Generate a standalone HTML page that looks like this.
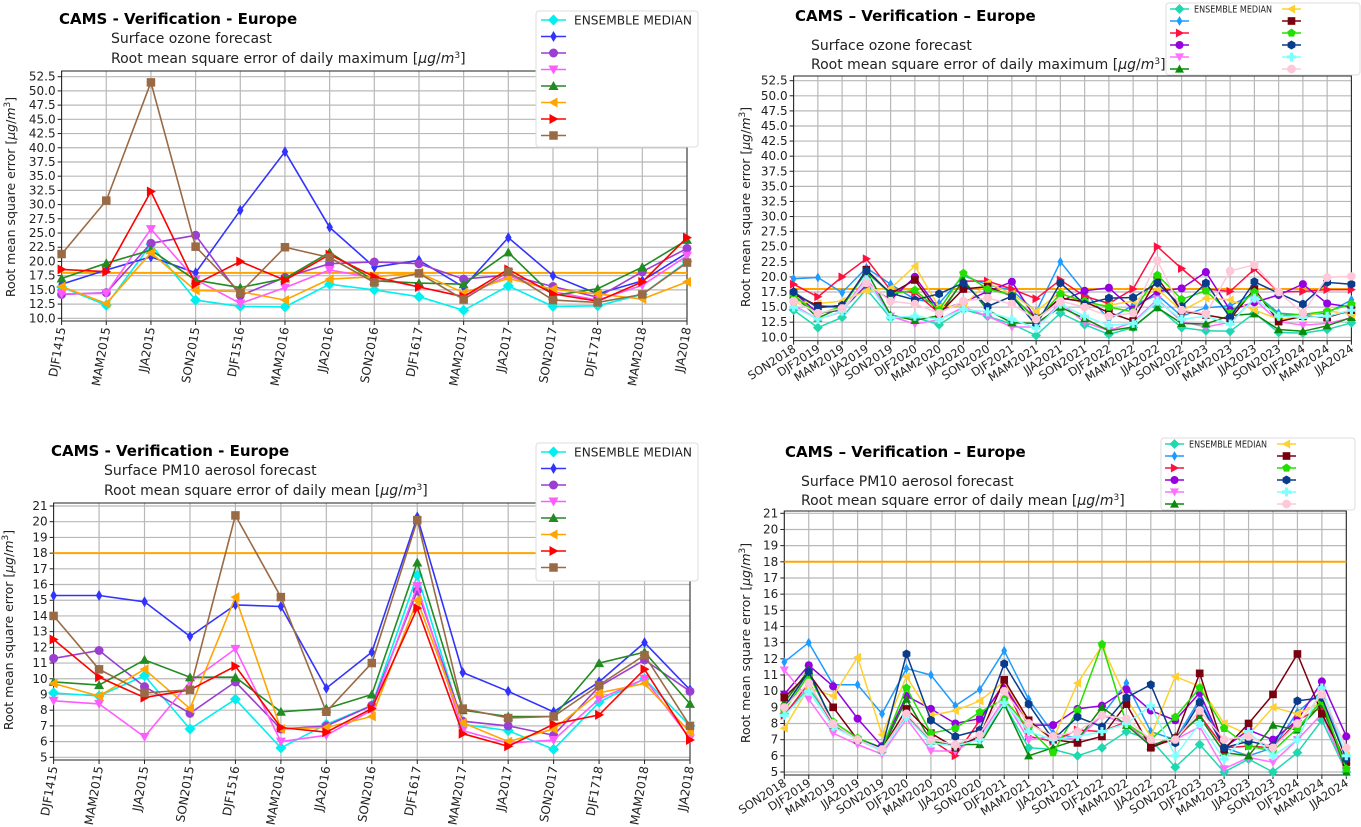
<!DOCTYPE html>
<html><head><meta charset="utf-8">
<style>
html,body{margin:0;padding:0;background:#fff;}
svg{display:block;font-family:"DejaVu Sans","Liberation Sans",sans-serif;}
</style></head>
<body>
<svg id="root" width="1361" height="827" viewBox="0 0 1361 827" xmlns="http://www.w3.org/2000/svg"></svg>
<script>
// ---------- data ----------
const catsOld = ["DJF1415","MAM2015","JJA2015","SON2015","DJF1516","MAM2016","JJA2016","SON2016","DJF1617","MAM2017","JJA2017","SON2017","DJF1718","MAM2018","JJA2018"];
const catsNew = ["SON2018","DJF2019","MAM2019","JJA2019","SON2019","DJF2020","MAM2020","JJA2020","SON2020","DJF2021","MAM2021","JJA2021","SON2021","DJF2022","MAM2022","JJA2022","SON2022","DJF2023","MAM2023","JJA2023","SON2023","DJF2024","MAM2024","JJA2024"];
const ticksO3 = ["10.0","12.5","15.0","17.5","20.0","22.5","25.0","27.5","30.0","32.5","35.0","37.5","40.0","42.5","45.0","47.5","50.0","52.5"];
const ticksPM = ["5","6","7","8","9","10","11","12","13","14","15","16","17","18","19","20","21"];
const targetO3 = 18;
const targetPM = 18;

const o3OldMedian = [15.5,12.3,23.0,13.2,12.1,12.0,16.0,15.0,13.8,11.4,15.7,12.1,12.2,14.2,20.0];
const o3OldBlue   = [16.0,18.5,20.8,18.0,29.0,39.3,26.0,19.0,20.2,15.5,24.2,17.5,14.3,16.6,21.5];
const o3OldPurple = [14.2,14.5,23.2,24.6,14.0,17.2,19.6,19.9,19.6,16.9,17.6,15.6,13.7,18.2,22.3];
const o3OldViolet = [14.3,14.4,25.7,16.8,12.6,15.4,18.5,17.1,15.5,13.8,17.5,14.7,13.2,15.8,21.0];
const o3OldGreen  = [17.0,19.7,22.0,16.7,15.4,17.0,21.6,16.6,16.2,16.0,21.6,14.0,15.2,19.0,23.8];
const o3OldOrange = [15.6,12.6,21.5,14.9,14.7,13.2,16.9,17.3,18.0,14.5,17.0,15.1,14.3,13.4,16.4];
const o3OldRed    = [18.6,18.2,32.3,16.0,20.0,16.7,21.2,17.3,15.5,13.8,18.6,14.3,13.0,16.4,24.2];
const o3OldBrown  = [21.3,30.7,51.5,22.6,14.5,22.5,20.7,16.3,17.9,13.3,18.2,13.2,12.8,14.2,19.8];

const pmOldMedian = [9.1,8.9,10.2,6.8,8.7,5.6,7.1,8.3,16.6,7.1,6.7,5.5,8.5,10.0,7.0];
const pmOldBlue   = [15.3,15.3,14.9,12.7,14.7,14.6,9.4,11.7,20.3,10.4,9.2,7.9,9.8,12.3,9.3];
const pmOldPurple = [11.3,11.8,9.5,7.8,9.8,6.8,7.0,8.3,15.6,7.3,7.0,6.4,9.5,11.2,9.2];
const pmOldViolet = [8.6,8.4,6.3,9.8,11.9,6.0,6.4,8.0,15.9,6.7,5.9,6.1,8.7,10.0,6.2];
const pmOldGreen  = [9.8,9.6,11.2,10.1,10.1,7.9,8.1,9.0,17.4,8.0,7.6,7.6,11.0,11.7,8.4];
const pmOldOrange = [9.7,8.9,10.6,8.1,15.2,6.8,6.9,7.6,15.0,7.2,6.0,6.8,9.1,9.7,6.6];
const pmOldRed    = [12.5,10.1,8.8,9.3,10.8,6.9,6.6,8.1,14.5,6.5,5.7,7.1,7.7,10.6,6.1];
const pmOldBrown  = [14.0,10.6,9.1,9.3,20.4,15.2,7.9,11.0,20.1,8.1,7.5,7.6,9.6,11.5,7.0];

const o3NewMedian = [14.5,11.6,13.3,18.0,13.2,13.3,12.1,14.6,13.5,12.2,10.3,14.0,12.1,10.5,11.6,15.0,11.6,11.1,11.0,14.0,10.8,10.7,11.3,12.4];
const o3NewSky    = [19.7,19.9,17.4,21.5,18.8,16.3,15.6,20.2,18.7,17.8,14.2,22.5,17.5,13.0,15.3,17.0,13.5,14.9,15.2,17.3,14.0,13.7,14.0,16.2];
const o3NewRed    = [18.8,16.7,20.0,23.0,17.8,17.4,14.0,19.3,19.3,18.0,16.4,19.5,16.8,15.6,18.0,25.0,21.4,18.0,17.6,21.3,17.5,17.6,17.9,17.9];
const o3NewPurple = [17.5,14.0,14.5,18.7,16.2,20.0,14.5,15.8,17.6,19.2,13.0,16.0,17.7,18.2,14.6,17.6,18.1,20.8,14.5,15.8,17.0,18.8,15.6,15.0];
const o3NewViolet = [15.3,13.0,14.2,20.0,13.5,12.2,12.9,15.0,13.5,11.7,11.7,15.7,12.5,11.1,12.5,16.3,12.6,11.7,12.5,16.3,12.6,12.0,12.3,13.2];
const o3NewGreen  = [17.0,13.2,15.0,21.0,13.7,12.8,13.6,19.5,14.5,12.4,12.3,15.0,13.1,11.1,11.7,14.9,12.3,12.2,13.6,13.9,11.3,11.0,11.9,13.3];
const o3NewGold   = [16.0,15.6,16.0,17.7,18.1,21.8,15.0,15.3,19.0,17.2,14.3,17.5,15.4,15.3,16.0,18.0,14.4,16.5,16.2,14.5,13.0,13.3,14.4,13.8];
const o3NewMaroon = [17.2,15.2,15.0,21.2,17.2,19.5,13.9,18.0,18.4,16.8,13.1,16.5,15.9,14.1,12.7,19.8,14.4,13.7,13.0,18.0,12.6,13.5,13.3,14.5];
const o3NewLime   = [17.0,13.8,15.1,20.8,17.2,17.8,14.5,20.6,18.0,17.0,12.8,17.2,16.0,15.0,14.2,20.3,16.3,17.7,14.0,17.5,13.6,13.8,14.3,15.5];
const o3NewNavy   = [17.5,14.9,15.3,21.0,17.3,16.2,17.2,19.0,15.1,16.8,12.0,19.0,15.5,16.5,16.6,19.0,15.1,19.0,13.3,19.2,17.3,15.5,19.1,18.8];
const o3NewLcyan  = [15.0,13.0,14.3,19.5,13.3,13.5,13.0,14.6,14.2,13.0,11.5,15.5,13.5,12.0,12.3,16.0,13.0,13.5,12.2,16.5,13.5,13.3,13.5,14.5];
const o3NewPink   = [16.0,14.0,14.8,19.0,16.0,15.5,14.0,16.0,16.5,15.5,13.0,16.0,15.0,13.5,14.0,22.7,14.5,13.9,21.0,22.0,17.5,14.0,19.9,20.1];

const pmNewMedian = [8.6,10.2,8.0,7.0,6.3,8.4,6.9,6.7,7.0,9.2,6.5,6.4,6.0,6.5,7.5,7.0,5.3,6.7,5.0,5.8,5.0,6.2,8.2,5.0];
const pmNewSky    = [11.8,13.0,10.4,10.4,8.6,11.4,11.0,9.1,10.1,12.5,9.5,7.4,7.1,8.5,10.5,7.5,7.0,9.5,6.5,6.0,6.5,8.7,10.0,6.0];
const pmNewRed    = [8.5,10.5,7.9,7.0,6.4,8.5,7.0,6.0,8.2,10.5,7.2,6.9,7.6,7.5,8.1,6.6,7.0,8.5,6.5,6.6,6.5,8.2,9.0,5.5];
const pmNewPurple = [9.8,11.6,10.3,8.3,6.6,9.7,8.9,8.0,8.3,10.4,7.9,7.9,8.9,9.1,10.1,8.8,8.2,9.9,6.5,7.6,7.0,8.2,10.6,7.2];
const pmNewViolet = [11.3,9.5,7.4,6.7,6.1,8.3,6.3,6.3,7.2,9.5,7.0,7.2,7.0,8.5,8.0,6.7,7.0,7.8,5.2,5.9,5.6,7.0,8.6,5.0];
const pmNewGreen  = [9.3,11.3,7.9,7.1,6.4,9.5,6.9,6.7,6.7,9.2,6.0,6.5,7.0,9.0,7.9,6.6,7.2,8.4,6.2,6.0,7.9,7.6,9.2,5.0];
const pmNewGold   = [7.7,10.2,9.7,12.1,7.3,10.9,8.5,8.8,9.4,10.6,8.1,7.0,10.5,12.8,9.5,7.2,10.9,10.3,8.0,7.3,9.0,8.6,9.3,6.0];
const pmNewMaroon = [9.6,11.1,9.0,7.0,6.4,8.9,7.4,6.5,7.2,10.7,8.2,7.0,6.8,7.2,9.2,6.5,7.1,11.1,6.4,8.0,9.8,12.3,8.6,5.6];
const pmNewLime   = [8.8,11.0,8.1,7.1,6.5,10.2,7.4,7.7,8.7,9.5,7.7,6.2,8.8,12.9,8.0,7.0,8.4,10.2,7.7,6.6,6.3,7.7,9.4,5.2];
const pmNewNavy   = [9.0,11.2,8.0,7.0,6.5,12.3,8.2,7.2,7.6,11.7,9.2,7.0,8.4,7.8,9.6,10.4,6.8,9.3,6.5,6.9,6.6,9.4,9.6,5.8];
const pmNewLcyan  = [8.5,10.0,7.8,7.0,6.3,8.4,6.8,6.6,7.0,9.3,7.5,7.0,7.2,7.5,8.0,9.1,6.0,8.0,5.8,7.5,6.0,7.0,10.2,6.0];
const pmNewPink   = [9.0,10.5,8.0,7.0,6.4,8.6,7.0,6.7,7.3,10.0,8.0,7.2,7.5,8.5,8.3,7.0,7.0,8.8,7.0,7.2,6.5,8.0,9.8,6.5];

// ---------- rendering ----------
const NS = "http://www.w3.org/2000/svg";
const root = document.getElementById("root");
function mk(tag, attrs, parent){
  const e = document.createElementNS(NS, tag);
  for (const k in attrs) e.setAttribute(k, attrs[k]);
  (parent||root).appendChild(e);
  return e;
}
function marker(g, shape, x, y, r, color){
  let e;
  const pts = a => a.map(p=>(x+p[0]*r).toFixed(1)+","+(y+p[1]*r).toFixed(1)).join(" ");
  const poly = (n, rot) => { const a=[]; for(let i=0;i<n;i++){const t=rot+i*2*Math.PI/n;a.push([Math.cos(t),Math.sin(t)]);} return a; };
  switch(shape){
    case "o": e = mk("circle",{cx:x,cy:y,r:r*0.9,fill:color},g); break;
    case "s": e = mk("rect",{x:x-r*0.85,y:y-r*0.85,width:r*1.7,height:r*1.7,fill:color},g); break;
    case "D": e = mk("polygon",{points:pts([[0,-1.1],[1.1,0],[0,1.1],[-1.1,0]]),fill:color},g); break;
    case "d": e = mk("polygon",{points:pts([[0,-1.1],[0.65,0],[0,1.1],[-0.65,0]]),fill:color},g); break;
    case "v": e = mk("polygon",{points:pts([[-1,-0.8],[1,-0.8],[0,1]]),fill:color},g); break;
    case "^": e = mk("polygon",{points:pts([[-1,0.8],[1,0.8],[0,-1]]),fill:color},g); break;
    case "<": e = mk("polygon",{points:pts([[0.8,-1],[0.8,1],[-1,0]]),fill:color},g); break;
    case ">": e = mk("polygon",{points:pts([[-0.8,-1],[-0.8,1],[1,0]]),fill:color},g); break;
    case "p": e = mk("polygon",{points:pts(poly(5,-Math.PI/2)),fill:color},g); break;
    case "h": e = mk("polygon",{points:pts(poly(6,-Math.PI/2)),fill:color},g); break;
    case "8": e = mk("polygon",{points:pts(poly(8,Math.PI/8)),fill:color},g); break;
    case "P": e = mk("polygon",{points:pts([[-0.35,-1],[0.35,-1],[0.35,-0.35],[1,-0.35],[1,0.35],[0.35,0.35],[0.35,1],[-0.35,1],[-0.35,0.35],[-1,0.35],[-1,-0.35],[-0.35,-0.35]]),fill:color},g); break;
  }
  return e;
}

function drawChart(cfg){
  const g = mk("g",{});
  
  
  const n = cfg.cats.length;
  const xOf = i => cfg.left + (cfg.right - cfg.left) * i / (n - 1);
  const t0 = parseFloat(cfg.ticks[0]), t1 = parseFloat(cfg.ticks[cfg.ticks.length-1]);
  const yOf = v => cfg.yLo + (cfg.yHi - cfg.yLo) * (v - t0) / (t1 - t0);

  const tt = mk("text",{x:cfg.titleX,y:cfg.titleY,"font-size":15,"font-weight":"bold",fill:"#000"},g);
  tt.textContent = cfg.title;
  
  
  cfg.subs.forEach((s,i)=>{
    const st = mk("text",{x:cfg.subX,y:cfg.subY[i],"font-size":14,fill:"#222"},g);
    st.innerHTML = s;
    
    
  });

  const grid = mk("g",{stroke:"#b8b8b8","stroke-width":1.2},g);
  
  
  cfg.ticks.forEach(t=>{
    const y = yOf(parseFloat(t));
    mk("line",{x1:cfg.left,x2:cfg.right,y1:y,y2:y},grid);
  });
  cfg.cats.forEach((c,i)=>{ const x=xOf(i); mk("line",{x1:x,x2:x,y1:cfg.fTop,y2:cfg.fBot},grid); });
  const fr = mk("rect",{x:cfg.left,y:cfg.fTop,width:cfg.right-cfg.left,height:cfg.fBot-cfg.fTop,fill:"none",stroke:"#222","stroke-width":1},g);
  
  

  const yax = mk("g",{"font-size":cfg.tickFont,fill:"#222","text-anchor":"end"},g);
  
  
  cfg.ticks.forEach(t=>{
    const y = yOf(parseFloat(t));
    mk("line",{x1:cfg.left-4,x2:cfg.left,y1:y,y2:y,stroke:"#222"},yax);
    const tx = mk("text",{x:cfg.left-6,y:y+4},yax);
    tx.textContent = t;
    
    
  });
  const yt = mk("text",{x:0,y:0,"font-size":12.5,fill:"#222","text-anchor":"middle",transform:`translate(${cfg.yTitleX},${cfg.yTitleY}) rotate(-90)`},g);
  yt.innerHTML = 'Root mean square error [<tspan font-style="italic">μg</tspan>/<tspan font-style="italic">m</tspan><tspan font-size="9" dy="-5">3</tspan><tspan dy="5">]</tspan>';
  
  

  const xax = mk("g",{"font-size":cfg.xFont,fill:"#222","text-anchor":"end"},g);
  
  
  cfg.cats.forEach((c,i)=>{
    const x = xOf(i);
    mk("line",{x1:x,x2:x,y1:cfg.fBot,y2:cfg.fBot+4,stroke:"#222"},xax);
    const tx = mk("text",{x:0,y:0,transform:`translate(${x+cfg.xLabDx},${cfg.fBot+cfg.xLabDy}) rotate(${cfg.xRot})`},xax);
    tx.textContent = c;
    
    
  });

  const ty = yOf(cfg.target);
  const tl = mk("line",{x1:cfg.left,x2:cfg.right,y1:ty,y2:ty,stroke:"#ffa500","stroke-width":2},g);
  
  

  cfg.series.forEach((s,si)=>{
    const sg = mk("g",{},g);
    
    
    const d = s.vals.map((v,i)=>(i?"L":"M")+xOf(i).toFixed(1)+","+yOf(v).toFixed(1)).join("");
    const p = mk("path",{d:d,fill:"none",stroke:s.color,"stroke-width":cfg.lw},sg);
    
    
    s.vals.forEach((v,i)=>{
      const m = marker(sg, s.shape, xOf(i), yOf(v), cfg.mr, s.color);
      
      
    });
  });

  const L = cfg.legend;
  const lg = mk("g",{},g);
  
  
  mk("rect",{x:L.x,y:L.y,width:L.w,height:L.h,rx:3,fill:"#fff",stroke:"#ddd"},lg);
  cfg.series.forEach((s,si)=>{
    const col = Math.floor(si / L.rows), row = si % L.rows;
    const lx = L.x + L.padX + col*L.colW, ly = L.y + L.padY + row*L.rowH;
    const eg = mk("g",{},lg);
    
    
    mk("line",{x1:lx,x2:lx+L.lineW,y1:ly,y2:ly,stroke:s.color,"stroke-width":cfg.lw},eg);
    marker(eg, s.shape, lx+L.lineW/2, ly, L.mr, s.color);
    if (s.label){
      const t = mk("text",{x:lx+L.lineW+L.gap,y:ly+L.font*0.38,"font-size":L.font,fill:"#222",textLength:L.textLen,lengthAdjust:"spacingAndGlyphs"},eg);
      t.textContent = s.label;
    }
  });
}

const oldSeries = (a)=>[
  {key:"ensemble-median",label:"ENSEMBLE MEDIAN",color:"#00f0f0",shape:"D",vals:a[0]},
  {key:"blue",label:"",color:"#3333ff",shape:"d",vals:a[1]},
  {key:"purple",label:"",color:"#9b3fd0",shape:"o",vals:a[2]},
  {key:"violet",label:"",color:"#ff5cff",shape:"v",vals:a[3]},
  {key:"green",label:"",color:"#228b22",shape:"^",vals:a[4]},
  {key:"orange",label:"",color:"#ffa500",shape:"<",vals:a[5]},
  {key:"red",label:"",color:"#ff0000",shape:">",vals:a[6]},
  {key:"brown",label:"",color:"#9a6a45",shape:"s",vals:a[7]},
];
const newSeries = (a)=>[
  {key:"ensemble-median",label:"ENSEMBLE MEDIAN",color:"#20d8b0",shape:"D",vals:a[0]},
  {key:"sky",label:"",color:"#1e9bff",shape:"d",vals:a[1]},
  {key:"red",label:"",color:"#ff1040",shape:">",vals:a[2]},
  {key:"purple",label:"",color:"#9400e0",shape:"o",vals:a[3]},
  {key:"violet",label:"",color:"#ff70ff",shape:"v",vals:a[4]},
  {key:"green",label:"",color:"#0a8a0a",shape:"^",vals:a[5]},
  {key:"gold",label:"",color:"#ffd030",shape:"<",vals:a[6]},
  {key:"maroon",label:"",color:"#78000f",shape:"s",vals:a[7]},
  {key:"lime",label:"",color:"#22e000",shape:"p",vals:a[8]},
  {key:"navy",label:"",color:"#0a3c8c",shape:"h",vals:a[9]},
  {key:"light-cyan",label:"",color:"#80ffff",shape:"P",vals:a[10]},
  {key:"pink",label:"",color:"#ffc8d8",shape:"8",vals:a[11]},
];

const oldLegend = (x,y,h)=>({x:x,y:y,w:162,h:h,rows:8,padX:5,padY:9,rowH:16.5,colW:0,lineW:25,gap:8,mr:5,font:12,textLen:118});
const newLegend = (x,y)=>({x:x,y:y,w:194,h:72,rows:6,padX:4,padY:6,rowH:12,colW:112,lineW:19,gap:5,mr:4.5,font:9.5,textLen:78});

drawChart({name:"ozone-2015-2018-chart",cats:catsOld,ticks:ticksO3,target:targetO3,
  left:61.6,right:687,yLo:318.3,yHi:76.7,fTop:71,fBot:321,
  title:"CAMS - Verification - Europe",titleX:59,titleY:24,
  subs:["Surface ozone forecast",'Root mean square error of daily maximum [<tspan font-style="italic">μg</tspan>/<tspan font-style="italic">m</tspan><tspan font-size="9" dy="-5">3</tspan><tspan dy="5">]</tspan>'],subX:111,
  subY:[43,63],tickFont:12,xFont:12,xRot:-80,xLabDx:4,xLabDy:7,yTitleX:15,yTitleY:197,lw:1.6,mr:5,
  series:oldSeries([o3OldMedian,o3OldBlue,o3OldPurple,o3OldViolet,o3OldGreen,o3OldOrange,o3OldRed,o3OldBrown]),
  legend:oldLegend(536,11,136)});

drawChart({name:"pm10-2015-2018-chart",cats:catsOld,ticks:ticksPM,target:targetPM,
  left:53.6,right:690,yLo:757.3,yHi:506,fTop:503,fBot:760,
  title:"CAMS - Verification - Europe",titleX:51,titleY:456,
  subs:["Surface PM10 aerosol forecast",'Root mean square error of daily mean [<tspan font-style="italic">μg</tspan>/<tspan font-style="italic">m</tspan><tspan font-size="9" dy="-5">3</tspan><tspan dy="5">]</tspan>'],subX:104,
  subY:[475,495],tickFont:12,xFont:12,xRot:-80,xLabDx:4,xLabDy:7,yTitleX:13,yTitleY:630,lw:1.6,mr:5,
  series:oldSeries([pmOldMedian,pmOldBlue,pmOldPurple,pmOldViolet,pmOldGreen,pmOldOrange,pmOldRed,pmOldBrown]),
  legend:oldLegend(536,443,138)});

drawChart({name:"ozone-2018-2024-chart",cats:catsNew,ticks:ticksO3,target:targetO3,
  left:793.6,right:1351.4,yLo:337.3,yHi:80.7,fTop:76,fBot:340.7,
  title:"CAMS \u2013 Verification \u2013 Europe",titleX:795,titleY:21,
  subs:["Surface ozone forecast",'Root mean square error of daily maximum [<tspan font-style="italic">μg</tspan>/<tspan font-style="italic">m</tspan><tspan font-size="9" dy="-5">3</tspan><tspan dy="5">]</tspan>'],subX:811,
  subY:[50,69],tickFont:12,xFont:11.5,xRot:-33,xLabDx:3,xLabDy:10,yTitleX:750,yTitleY:207,lw:1.5,mr:4.5,
  series:newSeries([o3NewMedian,o3NewSky,o3NewRed,o3NewPurple,o3NewViolet,o3NewGreen,o3NewGold,o3NewMaroon,o3NewLime,o3NewNavy,o3NewLcyan,o3NewPink]),
  legend:newLegend(1166,3)});

drawChart({name:"pm10-2018-2024-chart",cats:catsNew,ticks:ticksPM,target:targetPM,
  left:784.3,right:1346.3,yLo:772,yHi:513.3,fTop:511,fBot:775,
  title:"CAMS \u2013 Verification \u2013 Europe",titleX:785,titleY:457,
  subs:["Surface PM10 aerosol forecast",'Root mean square error of daily mean [<tspan font-style="italic">μg</tspan>/<tspan font-style="italic">m</tspan><tspan font-size="9" dy="-5">3</tspan><tspan dy="5">]</tspan>'],subX:801,
  subY:[486,505],tickFont:12,xFont:11.5,xRot:-33,xLabDx:3,xLabDy:10,yTitleX:750,yTitleY:643,lw:1.5,mr:4.5,
  series:newSeries([pmNewMedian,pmNewSky,pmNewRed,pmNewPurple,pmNewViolet,pmNewGreen,pmNewGold,pmNewMaroon,pmNewLime,pmNewNavy,pmNewLcyan,pmNewPink]),
  legend:newLegend(1161,438)});
</script>
</body></html>
